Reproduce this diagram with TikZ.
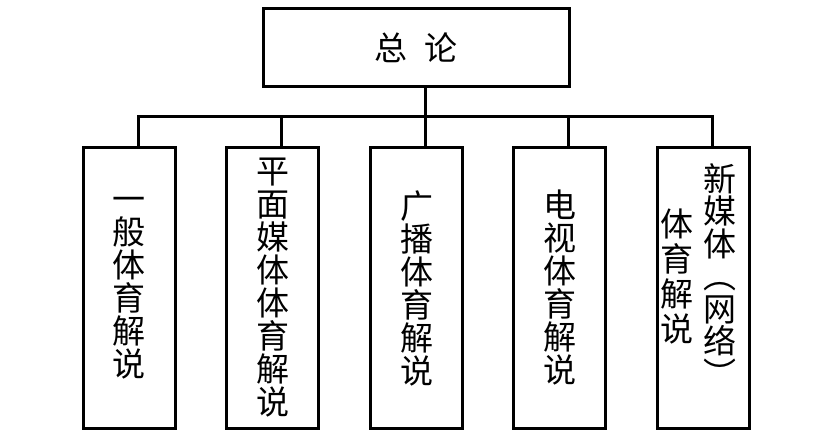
\documentclass[tikz,border=0pt]{standalone}
\usepackage{fontspec}
\newfontfamily\cjk{Noto Sans CJK SC}
\begin{document}
\begin{tikzpicture}[x=1pt,y=-1pt]
	\tikzstyle{box}=[draw, line width=3pt, inner sep=0pt, align=center, font=\cjk\fontsize{33}{33}\selectfont]
	\tikzstyle{part}=[box, minimum width=92pt, minimum height=280pt]
	\tikzstyle{col}=[inner sep=0pt, align=center, font=\cjk\fontsize{33}{32.5}\selectfont]
	\useasboundingbox (0,0) rectangle (827,435);
	\node[box, minimum width=306pt, minimum height=78pt] (top) at (416,48) {总\hspace{18pt}论};
	\node[part] (b1) at (129,288) {一\\般\\体\\育\\解\\说};
	\node[part] (b2) at (272.5,288) {平\\面\\媒\\体\\体\\育\\解\\说};
	\node[part] (b3) at (416.5,288) {广\\播\\体\\育\\解\\说};
	\node[part] (b4) at (559.5,288) {电\\视\\体\\育\\解\\说};
	\node[part] (b5) at (703,288) {};
	\node[col] (newmedia) at (720,275) {新\\媒\\体\\︵\\网\\络\\︶};
	\node[col, font=\cjk\fontsize{33}{35}\selectfont] (sports) at (677,277) {体\\育\\解\\说};
	\coordinate (bar) at (425,117);
	\draw[line width=3pt] ([xshift=9pt]top.south) -- (bar);
	\foreach \i in {1,...,5}
		\draw[line width=3pt] (bar) -| ([xshift=9pt]b\i.north);
\end{tikzpicture}
\end{document}
